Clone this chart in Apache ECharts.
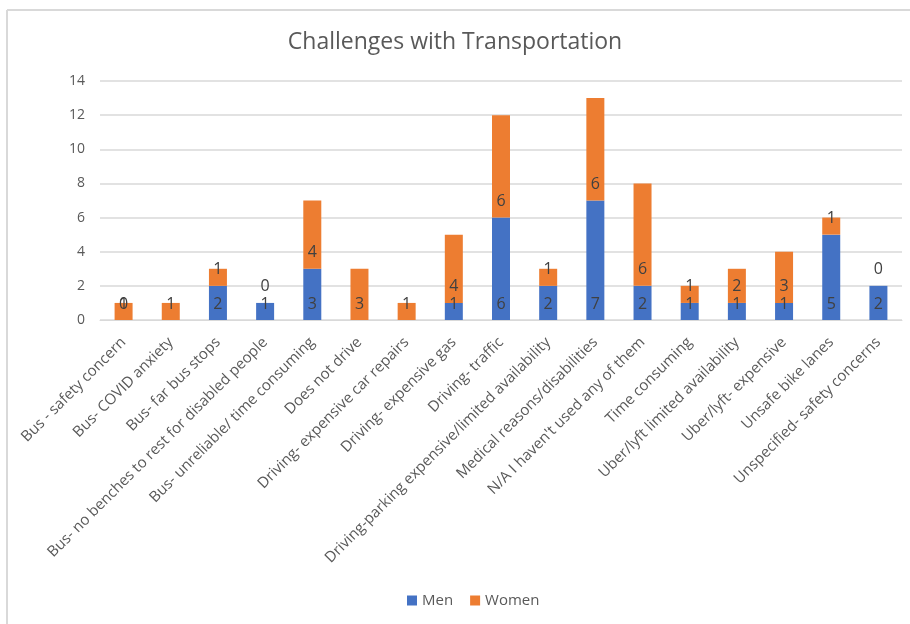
<!DOCTYPE html>
<html>
<head>
<meta charset="utf-8">
<script src="https://cdn.jsdelivr.net/npm/echarts@6/dist/echarts.min.js"></script>
<style>
html, body { margin: 0; padding: 0; background: #fff; }
#chart { width: 910px; height: 624px; }
</style>
</head>
<body>
<div id="chart"></div>
<script>
var categories = [
	'Bus - safety concern',
	'Bus- COVID anxiety',
	'Bus- far bus stops',
	'Bus- no benches to rest for disabled people',
	'Bus- unreliable/ time consuming',
	'Does not drive',
	'Driving- expensive car repairs',
	'Driving- expensive gas',
	'Driving- traffic',
	'Driving-parking expensive/limited availability',
	'Medical reasons/disabilities',
	"N/A I haven't used any of them",
	'Time consuming',
	'Uber/lyft limited availability',
	'Uber/lyft- expensive',
	'Unsafe bike lanes',
	'Unspecified- safety concerns'
];
var men = [0, null, 2, 1, 3, null, null, 1, 6, 2, 7, 2, 1, 1, 1, 5, 2];
var women = [1, 1, 1, 0, 4, 3, 1, 4, 6, 1, 6, 6, 1, 2, 3, 1, 0];
var yTicks = [0, 2, 4, 6, 8, 10, 12, 14];

var textColor = '#595959';
var labelFont = 'Open Sans';

var barLabel = {
	show: true,
	position: 'insideBottom',
	distance: 8,
	fontFamily: labelFont,
	fontSize: 16,
	color: '#404040'
};

var myChart = echarts.init(document.getElementById('chart'));
var option = {
	animation: false,
	backgroundColor: '#fff',
	title: {
		text: 'Challenges with Transportation',
		left: 'center',
		top: 26,
		textStyle: {
			fontFamily: 'Open Sans',
			fontSize: 23,
			fontWeight: 'normal',
			color: textColor
		}
	},
	graphic: [
		{ type: 'line', shape: { x1: 7, y1: 10, x2: 910, y2: 10 }, style: { stroke: '#d9d9d9', lineWidth: 2 } },
		{ type: 'line', shape: { x1: 7, y1: 10, x2: 7, y2: 624 }, style: { stroke: '#d9d9d9', lineWidth: 2 } }
	],
	legend: {
		bottom: 11,
		left: 402,
		itemWidth: 10,
		itemHeight: 10,
		itemGap: 17,
		icon: 'rect',
		textStyle: { fontFamily: labelFont, fontSize: 15, color: textColor },
		data: ['Men', 'Women']
	},
	grid: {
		left: 100,
		right: 8,
		top: 81,
		bottom: 304
	},
	xAxis: {
		type: 'category',
		data: categories,
		axisLine: { lineStyle: { color: '#d9d9d9', width: 1 } },
		axisTick: { show: false },
		axisLabel: {
			interval: 0,
			rotate: 45,
			margin: 20,
			fontFamily: labelFont,
			fontSize: 15,
			color: textColor
		}
	},
	yAxis: {
		type: 'value',
		min: yTicks[0],
		max: yTicks[yTicks.length - 1],
		interval: 2,
		splitLine: { lineStyle: { color: '#d9d9d9', width: 1.5 } },
		axisLine: { show: false },
		axisTick: { show: false },
		axisLabel: {
			margin: 15,
			fontFamily: labelFont,
			fontSize: 14,
			color: textColor
		}
	},
	series: [
		{
			name: 'Men',
			type: 'bar',
			stack: 'total',
			barWidth: 18,
			itemStyle: { color: '#4472c4' },
			label: barLabel,
			data: men
		},
		{
			name: 'Women',
			type: 'bar',
			stack: 'total',
			barWidth: 18,
			itemStyle: { color: '#ed7d31' },
			label: barLabel,
			data: women
		}
	]
};
myChart.setOption(option);
</script>
</body>
</html>
